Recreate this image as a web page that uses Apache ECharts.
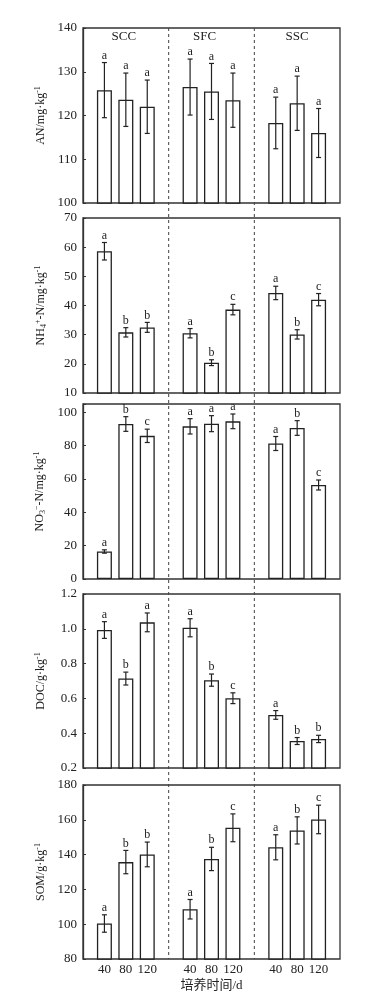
<!DOCTYPE html>
<html><head><meta charset="utf-8">
<script src="https://cdn.jsdelivr.net/npm/echarts/dist/echarts.min.js"></script>
<style>html,body{margin:0;padding:0;background:#fff}#c{width:367px;height:997px}</style>
</head><body><div id="c"></div>
<script>
// ---- data ----
const groups = ['SCC', 'SFC', 'SSC'];
const days = ['40', '80', '120'];

const AN = [125.8, 123.6, 122.0, 126.5, 125.5, 123.5, 118.3, 122.8, 116.0];
const AN_err = [6.3, 6.1, 6.1, 6.4, 6.4, 6.2, 5.9, 6.2, 5.6];
const AN_sig = ['a', 'a', 'a', 'a', 'a', 'a', 'a', 'a', 'a'];

const NH4 = [58.6, 30.8, 32.5, 30.5, 20.4, 38.6, 44.3, 30.1, 42.0];
const NH4_err = [3.0, 1.6, 1.7, 1.6, 1.0, 1.8, 2.3, 1.6, 2.1];
const NH4_sig = ['a', 'b', 'b', 'a', 'b', 'c', 'a', 'b', 'c'];

const NO3 = [16.5, 93.0, 85.9, 91.6, 93.2, 94.6, 81.3, 90.6, 56.4];
const NO3_err = [1.0, 4.4, 4.0, 4.6, 4.8, 4.4, 4.2, 4.4, 3.0];
const NO3_sig = ['a', 'b', 'c', 'a', 'a', 'a', 'a', 'b', 'c'];

const DOC = [0.993, 0.714, 1.037, 1.006, 0.705, 0.601, 0.505, 0.355, 0.367];
const DOC_err = [0.048, 0.037, 0.054, 0.052, 0.035, 0.031, 0.025, 0.020, 0.021];
const DOC_sig = ['a', 'b', 'a', 'a', 'b', 'c', 'a', 'b', 'b'];

const SOM = [100.4, 135.7, 140.1, 108.6, 137.5, 155.4, 144.2, 153.9, 160.2];
const SOM_err = [5.0, 6.7, 7.1, 5.6, 6.7, 8.0, 7.2, 7.8, 8.2];
const SOM_sig = ['a', 'b', 'b', 'a', 'b', 'c', 'a', 'b', 'c'];

// y-axis ranges: [min, max, interval, decimals]
const AN_axis = [100, 140, 10, 0];
const NH4_axis = [10, 70, 10, 0];
const NO3_axis = [0, 105, 20, 0];
const DOC_axis = [0.2, 1.2, 0.2, 1];
const SOM_axis = [80, 180, 20, 0];

const yNames = [
  '{t|AN/mg·kg}{sup|-1}',
  '{t|NH}{sub|4}{sup|+}{t|-N/mg·kg}{sup|-1}',
  '{t|NO}{sub|3}{sup|−}{t|-N/mg·kg}{sup|-1}',
  '{t|DOC/g·kg}{sup|-1}',
  '{t|SOM/g·kg}{sup|-1}'
];
const xName = '培养时间/d';

// ---- layout ----
const SERIF = '"Liberation Serif","Times New Roman",serif';
const panels = [
  { v: AN, e: AN_err, s: AN_sig, ax: AN_axis, top: 28, h: 175 },
  { v: NH4, e: NH4_err, s: NH4_sig, ax: NH4_axis, top: 218, h: 175 },
  { v: NO3, e: NO3_err, s: NO3_sig, ax: NO3_axis, top: 404, h: 175 },
  { v: DOC, e: DOC_err, s: DOC_sig, ax: DOC_axis, top: 594, h: 174 },
  { v: SOM, e: SOM_err, s: SOM_sig, ax: SOM_axis, top: 785, h: 174 }
];
const pos = k => Math.floor(k / 3) + ((k % 3) + 1) / 4;

const chart = echarts.init(document.getElementById('c'), null, { renderer: 'canvas' });
const grid = [], xAxis = [], yAxis = [], series = [];

panels.forEach((p, i) => {
  const last = i === panels.length - 1;
  grid.push({ left: 83, width: 257, top: p.top, height: p.h, show: true,
    borderColor: '#333', borderWidth: 1.3, backgroundColor: 'transparent' });
  xAxis.push({
    type: 'value', gridIndex: i, min: 0, max: 3, interval: 0.25,
    axisLine: { show: false }, axisTick: { show: false }, splitLine: { show: false },
    axisLabel: {
      show: last, margin: 4, fontSize: 13, fontFamily: SERIF, color: '#222',
      formatter: v => { const r = Math.round(v * 4) % 4; return r ? days[r - 1] : ''; }
    },
    name: last ? xName : '', nameLocation: 'middle', nameGap: 20,
    nameTextStyle: { fontSize: 13, color: '#222', fontFamily: '"Liberation Serif","Noto Sans CJK SC",serif' }
  });
  const [mn, mx, iv, dec] = p.ax;
  yAxis.push({
    type: 'value', gridIndex: i, min: mn, max: mx, interval: iv,
    axisLine: { show: true, lineStyle: { color: '#333', width: 1.3 } },
    axisTick: { show: true, inside: true, length: 3, lineStyle: { color: '#333' } },
    splitLine: { show: false },
    axisLabel: {
      margin: 6, fontSize: 13, fontFamily: SERIF, color: '#222',
      formatter: v => {
        const k = (v - mn) / iv;
        if (Math.abs(k - Math.round(k)) > 1e-6) return '';
        return v.toFixed(dec);
      }
    },
    name: yNames[i], nameLocation: 'middle', nameRotate: 90, nameGap: 35,
    nameTextStyle: {
      rich: {
        t: { fontSize: 12, fontFamily: SERIF, color: '#222', lineHeight: 14 },
        sup: { fontSize: 8, fontFamily: SERIF, color: '#222', verticalAlign: 'top', lineHeight: 14 },
        sub: { fontSize: 8, fontFamily: SERIF, color: '#222', verticalAlign: 'bottom', lineHeight: 14 }
      }
    }
  });
  series.push({
    type: 'bar', xAxisIndex: i, yAxisIndex: i, barWidth: 15, silent: true,
    data: p.v.map((v, k) => [pos(k), v]),
    itemStyle: { color: '#fff', borderColor: '#222', borderWidth: 1.3 }
  });
  series.push({
    type: 'custom', xAxisIndex: i, yAxisIndex: i, silent: true, clip: false, z: 5,
    data: p.v.map((v, k) => [pos(k), v, p.e[k]]),
    renderItem: (params, api) => {
      const x = api.value(0), y = api.value(1), e = api.value(2);
      const t = api.coord([x, y + e]), b = api.coord([x, y - e]);
      const c = 2.5, st = { stroke: '#222', lineWidth: 1.2 };
      return { type: 'group', children: [
        { type: 'line', shape: { x1: t[0], y1: t[1], x2: b[0], y2: b[1] }, style: st },
        { type: 'line', shape: { x1: t[0] - c, y1: t[1], x2: t[0] + c, y2: t[1] }, style: st },
        { type: 'line', shape: { x1: b[0] - c, y1: b[1], x2: b[0] + c, y2: b[1] }, style: st },
        { type: 'text', style: { text: p.s[params.dataIndex], x: t[0], y: t[1] - 1,
            align: 'center', verticalAlign: 'bottom', fontSize: 12, fontFamily: SERIF, fill: '#222' } }
      ] };
    }
  });
});

// group labels on the top panel
const labelDx = [-2, -7, 0];
series.push({
  type: 'custom', xAxisIndex: 0, yAxisIndex: 0, silent: true, clip: false, z: 6,
  data: groups.map((g, k) => [k + 0.5, AN_axis[1]]),
  renderItem: (params, api) => {
    const pt = api.coord([api.value(0), api.value(1)]);
    return { type: 'text', style: { text: groups[params.dataIndex], x: pt[0] + labelDx[params.dataIndex],
      y: pt[1] + 9, align: 'center', verticalAlign: 'middle', fontSize: 13, fontFamily: SERIF, fill: '#222' } };
  }
});

chart.setOption({ animation: false, backgroundColor: '#fff', grid, xAxis, yAxis, series });

// dashed group separators spanning all panels
const yTop = chart.convertToPixel({ yAxisIndex: 0 }, AN_axis[1]);
const yBot = chart.convertToPixel({ yAxisIndex: 4 }, SOM_axis[0]);
const sepX = [1, 2].map(v => chart.convertToPixel({ xAxisIndex: 0 }, v));
chart.setOption({ graphic: sepX.map(x => ({
  type: 'line', z: 10, silent: true,
  shape: { x1: x, y1: yTop, x2: x, y2: yBot },
  style: { stroke: '#444', lineWidth: 1, lineDash: [3, 3] }
})) });
</script></body></html>
